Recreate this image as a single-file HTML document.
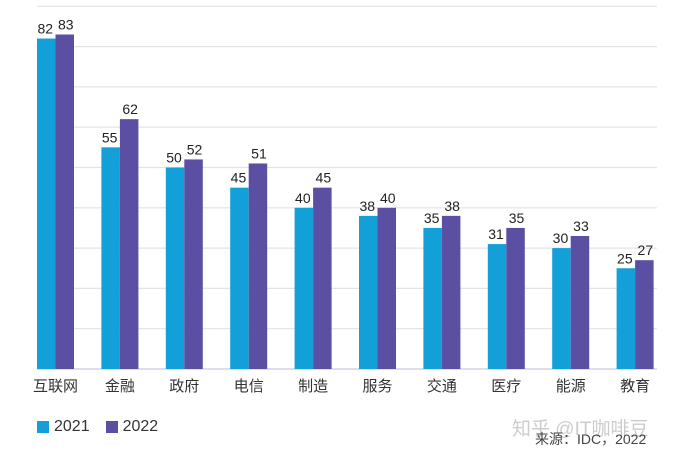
<!DOCTYPE html>
<html><head><meta charset="utf-8"><style>
body{margin:0;background:#fff;width:681px;height:453px;overflow:hidden;font-family:"Liberation Sans","Noto Sans CJK SC",sans-serif}
</style></head><body>
<svg id="c" width="681" height="453" style="position:absolute;left:0;top:0"></svg>
<script>
const categories=["互联网","金融","政府","电信","制造","服务","交通","医疗","能源","教育"];
const values2021=[82,55,50,45,40,38,35,31,30,25];
const values2022=[83,62,52,51,45,40,38,35,33,27];
const gridTicks=[10,20,30,40,50,60,70,80,90];
const svg=document.getElementById('c');
const NS='http://www.w3.org/2000/svg';
const base=369, k=4.03, x0=37, stride=64.4, bw=18.5;
const y=v=>base-v*k;
const gx=i=>x0+i*stride;
function mk(t,a,p){const e=document.createElementNS(NS,t);for(const n in a)e.setAttribute(n,a[n]);(p||svg).appendChild(e);return e;}
gridTicks.forEach(v=>{
const l=mk('line',{x1:37,x2:657,y1:y(v),y2:y(v),stroke:'#e3e3e3','stroke-width':1.2});


});
const ax=mk('line',{x1:37,x2:657,y1:base,y2:base,stroke:'#d0d4e0','stroke-width':1.5});


categories.forEach((c,i)=>{
const x=gx(i);
const b1=mk('rect',{x:x,y:y(values2021[i]),width:bw,height:values2021[i]*k,fill:'#139fd8'});


const b2=mk('rect',{x:x+bw,y:y(values2022[i]),width:bw,height:values2022[i]*k,fill:'#5b4fa3'});


const t1=mk('text',{x:x+bw/2-1,y:y(values2021[i])-5,'text-anchor':'middle','font-size':14,fill:'#222'});t1.textContent=values2021[i];


const t2=mk('text',{x:x+bw*1.5+1,y:y(values2022[i])-5,'text-anchor':'middle','font-size':14,fill:'#222'});t2.textContent=values2022[i];


const cl=mk('text',{x:x+bw,y:391,'text-anchor':'middle','font-size':15,fill:'#333'});cl.textContent=c;


});
</script>
<div style="position:absolute;left:37px;top:418px;font-size:16px;color:#333;display:flex;align-items:center">
<span style="width:12px;height:12px;background:#139fd8;display:inline-block;margin-right:5px"></span><span>2021</span>
<span style="width:12px;height:12px;background:#5b4fa3;display:inline-block;margin:0 5px 0 16px"></span><span>2022</span>
</div>
<div style="position:absolute;left:512px;top:414px;font-size:19px;color:#ccc">知乎 @IT咖啡豆</div>
<div style="position:absolute;left:535px;top:429px;font-size:14px;color:#444">来源：IDC，2022</div>
</body></html>
